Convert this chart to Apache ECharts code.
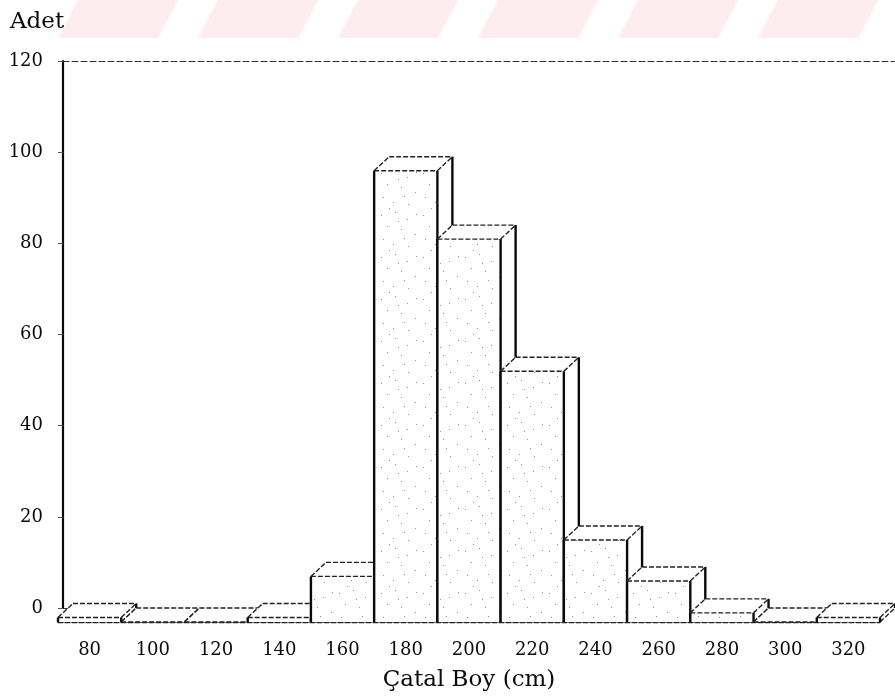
<!DOCTYPE html>
<html>
<head>
<meta charset="utf-8">
<script src="https://cdn.jsdelivr.net/npm/echarts@6/dist/echarts.min.js"></script>
<style>
  html, body { margin: 0; padding: 0; background: #ffffff; }
  #chart { width: 895px; height: 700px; }
</style>
</head>
<body>
<div id="chart"></div>
<script>
// Fork length classes (cm) and number of fish in each class
const lengthClasses = ['80', '100', '120', '140', '160', '180', '200', '220', '240', '260', '280', '300', '320'];
const counts = [1, 0, 0, 1, 10, 99, 84, 55, 18, 9, 2, 0, 1];
const countTicks = [0, 20, 40, 60, 80, 100, 120];

// Box depth of the pseudo-3D bars (px)
const DEPTH_X = 15;
const DEPTH_Y = 14;
const FONT = 'DejaVu Serif';
const INK = '#0a0a0a';

// Sparse stipple texture for the front faces
function makeStipple() {
  const c = document.createElement('canvas');
  c.width = 42; c.height = 42;
  const g = c.getContext('2d');
  g.fillStyle = '#ffffff';
  g.fillRect(0, 0, 42, 42);
  g.fillStyle = '#8c8c8c';
  const dots = [[3, 5], [17, 2], [29, 9], [9, 16], [23, 19], [37, 24], [5, 29], [15, 34], [30, 36], [20, 11], [38, 4], [26, 28], [11, 40]];
  dots.forEach(function (d) { g.fillRect(d[0], d[1], 1, 1); });
  return c;
}
const stipple = { image: makeStipple(), repeat: 'repeat' };

function edge(x1, y1, x2, y2, solid, z2) {
  return {
    type: 'line',
    z2: z2,
    shape: { x1: x1, y1: y1, x2: x2, y2: y2 },
    style: solid
      ? { stroke: INK, lineWidth: 2.4 }
      : { stroke: '#222222', lineWidth: 1.4, lineDash: [5, 2] }
  };
}

function renderBox(params, api) {
  const idx = params.dataIndex;
  const v = api.value(1);
  const base = api.coord([api.value(0), 0]);
  const top = api.coord([api.value(0), v]);
  const w = api.size([1, 0])[0];
  const x0 = base[0] - w / 2;
  const x1 = base[0] + w / 2;
  const yb = base[1];
  const yt = top[1];
  const dx = DEPTH_X, dy = DEPTH_Y;
  const z = idx * 20;
  return {
    type: 'group',
    children: [
      { type: 'polygon', z2: z, shape: { points: [[x1, yt], [x1 + dx, yt - dy], [x1 + dx, yb - dy], [x1, yb]] },
        style: { fill: '#ffffff' } },
      { type: 'polygon', z2: z + 1, shape: { points: [[x0, yt], [x1, yt], [x1 + dx, yt - dy], [x0 + dx, yt - dy]] },
        style: { fill: '#ffffff' } },
      { type: 'rect', z2: z + 2, shape: { x: x0, y: yt, width: w, height: yb - yt },
        style: { fill: stipple } },
      // top face outline
      edge(x0, yt, x0 + dx, yt - dy, false, z + 3),
      edge(x0 + dx, yt - dy, x1 + dx, yt - dy, false, z + 3),
      edge(x1, yt, x1 + dx, yt - dy, false, z + 3),
      edge(x0, yt, x1, yt, false, z + 3),
      // side face lower edge
      edge(x1, yb, x1 + dx, yb - dy, false, z + 3),
      // vertical edges
      edge(x0, yt, x0, yb, true, z + 4),
      edge(x1, yt, x1, yb, true, z + 4),
      edge(x1 + dx, yt - dy, x1 + dx, yb - dy, true, z + 4)
    ]
  };
}

// Faint watermark stripes across the top margin
const stripeGraphics = [0, 1, 2, 3, 4, 5].map(function (k) {
  const bx = 58 + k * 140;
  return {
    type: 'polygon',
    silent: true,
    z: -10,
    shape: { points: [[bx, 38], [bx + 100, 38], [bx + 120, 0], [bx + 20, 0]] },
    style: { fill: '#fdedf0' }
  };
});

const chart = echarts.init(document.getElementById('chart'), null, { renderer: 'canvas' });

chart.setOption({
  animation: false,
  backgroundColor: '#ffffff',
  title: {
    text: 'Adet',
    left: 5,
    top: 6,
    textStyle: { fontFamily: FONT, fontSize: 23, fontWeight: 'normal', color: INK }
  },
  graphic: stripeGraphics,
  grid: [
    // front plane of the boxes
    { left: 58, right: 15, top: 75, bottom: 78 },
    // back wall carrying the count axis
    { left: 63, right: 0, top: 61, bottom: 92 }
  ],
  xAxis: [
    {
      gridIndex: 0,
      type: 'category',
      data: lengthClasses,
      boundaryGap: true,
      name: 'Çatal Boy (cm)',
      nameLocation: 'middle',
      nameGap: 47,
      nameTextStyle: { fontFamily: FONT, fontSize: 23, color: INK },
      axisLine: { lineStyle: { color: '#222222', width: 1.4, type: [5, 2] } },
      axisTick: { alignWithLabel: true, length: 6, lineStyle: { color: INK, width: 1.5 } },
      axisLabel: { margin: 19, fontFamily: FONT, fontSize: 18, color: INK },
      splitLine: { show: false }
    },
    {
      gridIndex: 1,
      type: 'value',
      min: 0, max: 1,
      position: 'bottom',
      axisLine: { show: true, lineStyle: { color: '#333333', width: 1.2, type: [5, 3] } },
      axisTick: { show: false },
      axisLabel: { show: false },
      splitLine: { show: false }
    },
    {
      gridIndex: 1,
      type: 'value',
      min: 0, max: 1,
      position: 'top',
      axisLine: { show: true, lineStyle: { color: '#333333', width: 1.2, type: [6, 3] } },
      axisTick: { show: false },
      axisLabel: { show: false },
      splitLine: { show: false }
    }
  ],
  yAxis: [
    {
      gridIndex: 0,
      type: 'value',
      min: 0, max: 120, interval: 20,
      show: false
    },
    {
      gridIndex: 1,
      type: 'value',
      min: countTicks[0],
      max: countTicks[countTicks.length - 1],
      interval: countTicks[1] - countTicks[0],
      axisLine: { show: true, lineStyle: { color: INK, width: 2.2 } },
      axisTick: { show: true, length: 5, lineStyle: { color: '#555555', width: 1 } },
      axisLabel: { margin: 20, fontFamily: FONT, fontSize: 18, color: INK },
      splitLine: { show: false }
    }
  ],
  series: [
    {
      type: 'custom',
      xAxisIndex: 0,
      yAxisIndex: 0,
      renderItem: renderBox,
      encode: { x: 0, y: 1 },
      data: counts.map(function (c, i) { return [i, c]; })
    }
  ]
});
</script>
</body>
</html>
